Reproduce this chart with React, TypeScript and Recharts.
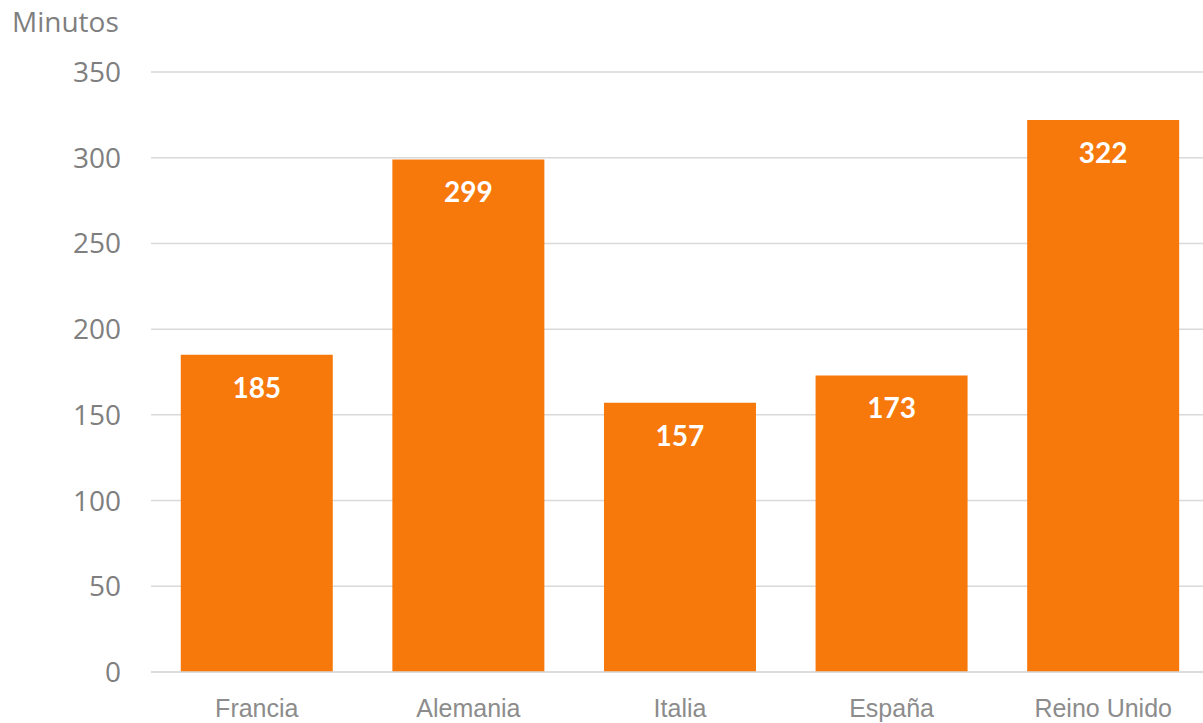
import React from "react";
import { BarChart, Bar, XAxis, YAxis, CartesianGrid, LabelList } from "recharts";

const countries = ["Francia", "Alemania", "Italia", "España", "Reino Unido"];
const minutes = [185, 299, 157, 173, 322];
const yTicks = [0, 50, 100, 150, 200, 250, 300, 350];

const data = countries.map((c, i) => ({ name: c, value: minutes[i] }));

export default function App() {
  return (
    <div
      style={{
        position: "absolute",
        left: 0,
        top: 0,
        width: 1203,
        height: 723,
        overflow: "hidden",
        background: "#fff",
      }}
    >
      <BarChart
        width={1209}
        height={723}
        data={data}
        margin={{ top: 72, right: 0, left: 0, bottom: 0 }}
        barCategoryGap="14.07%"
      >
        <CartesianGrid vertical={false} stroke="#d9d9d9" strokeWidth={1.5} />
        <YAxis
          width={151}
          domain={[0, 350]}
          ticks={yTicks}
          axisLine={false}
          tickLine={false}
          tickMargin={24}
          tick={{ fill: "#7f7f7f", fontSize: 28, fontFamily: "'Open Sans', sans-serif" }}
          interval={0}
        />
        <XAxis
          dataKey="name"
          height={51}
          axisLine={{ stroke: "#d9d9d9", strokeWidth: 1.5 }}
          tickLine={false}
          tickMargin={21}
          tick={{ fill: "#8c8c8c", fontSize: 25, fontFamily: "'Liberation Sans', Arial, sans-serif" }}
          interval={0}
        />
        <Bar dataKey="value" fill="#F7780B" isAnimationActive={false}>
          <LabelList
            dataKey="value"
            position="insideTop"
            offset={23}
            fill="#ffffff"
            fontSize={28}
            fontWeight="bold"
            fontFamily="Lato, 'Open Sans', sans-serif"
          />
        </Bar>
      </BarChart>
      <svg
        width={200}
        height={50}
        style={{ position: "absolute", left: 0, top: 0 }}
      >
        <text
          x={12}
          y={32}
          fill="#7f7f7f"
          fontSize={28}
          fontFamily="'Open Sans', sans-serif"
        >
          Minutos
        </text>
      </svg>
    </div>
  );
}
